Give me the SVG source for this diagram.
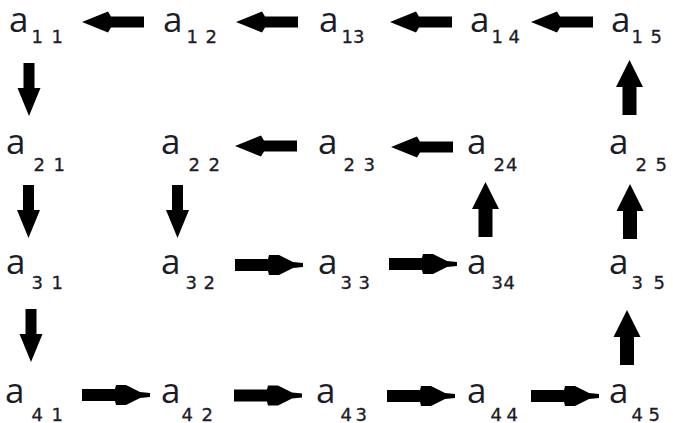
<svg xmlns="http://www.w3.org/2000/svg" xmlns:xlink="http://www.w3.org/1999/xlink" width="673" height="423" viewBox="0 0 673 423">
<style>
.a{font-family:"Open Sans","DejaVu Sans",sans-serif;font-size:35px;fill:#1c1c28}
.s{font-family:"DejaVu Sans","Liberation Sans",sans-serif;font-size:18px;fill:#1c1c28;stroke:#1c1c28;stroke-width:0.3}
.arr{fill:#000}
</style>
<defs>
<polygon id="L" points="0,0 26,-10.5 29,-5.5 62,-5.5 62,5.5 29,5.5 26,10.5"/>
<polygon id="R" points="0,-6 33,-6 34,-10 44,-10 58,-3 68,-2 68,2 58,3 44,10 34,10 33,6 0,6"/>
<polygon id="U" points="0,0 13.5,27 7,27 7,55 -7,55 -7,27 -13.5,27"/>
<polygon id="D" points="-5.5,0 5.5,0 5.5,25 11.5,25 0,53 -11.5,25 -5.5,25"/>
</defs>
<rect width="673" height="423" fill="#fff"/>
<g id="connectors" class="arr">
<use xlink:href="#L" x="82" y="22"/>
<use xlink:href="#L" x="236" y="22"/>
<use xlink:href="#L" x="390" y="22"/>
<use xlink:href="#L" x="531" y="22"/>
<use xlink:href="#L" x="235" y="146"/>
<use xlink:href="#L" x="391" y="147"/>
<use xlink:href="#R" x="235" y="265"/>
<use xlink:href="#R" x="389" y="264"/>
<use xlink:href="#R" x="82" y="395"/>
<use xlink:href="#R" x="234" y="395.5"/>
<use xlink:href="#R" x="387" y="396"/>
<use xlink:href="#R" x="531" y="396"/>
<use xlink:href="#U" x="629.5" y="60"/>
<use xlink:href="#U" x="630" y="184"/>
<use xlink:href="#U" x="485.5" y="182"/>
<use xlink:href="#U" x="627" y="310"/>
<use xlink:href="#D" x="29" y="63"/>
<use xlink:href="#D" x="28.5" y="185"/>
<use xlink:href="#D" x="177.5" y="185"/>
<use xlink:href="#D" x="31" y="309"/>
</g>
<g id="a11"><text class="a" x="9" y="32">a</text><text class="s" x="31.5 51.5" y="43">11</text></g>
<g id="a12"><text class="a" x="163" y="32">a</text><text class="s" x="186.5 205.5" y="43">12</text></g>
<g id="a13"><text class="a" x="319" y="32">a</text><text class="s" x="341.5 353" y="43">13</text></g>
<g id="a14"><text class="a" x="470" y="32">a</text><text class="s" x="491.5 508.5" y="43">14</text></g>
<g id="a15"><text class="a" x="611" y="32">a</text><text class="s" x="631.5 650.5" y="43">15</text></g>
<g id="a21"><text class="a" x="6" y="154">a</text><text class="s" x="33.5 53.5" y="171">21</text></g>
<g id="a22"><text class="a" x="161" y="154">a</text><text class="s" x="188.5 208.5" y="171">22</text></g>
<g id="a23"><text class="a" x="318" y="154">a</text><text class="s" x="343.5 363.5" y="171">23</text></g>
<g id="a24"><text class="a" x="467" y="154">a</text><text class="s" x="493.5 506" y="171">24</text></g>
<g id="a25"><text class="a" x="609" y="154">a</text><text class="s" x="635.5 655.5" y="171">25</text></g>
<g id="a31"><text class="a" x="6" y="274">a</text><text class="s" x="31.5 51.5" y="289">31</text></g>
<g id="a32"><text class="a" x="161" y="274">a</text><text class="s" x="185.5 203.5" y="289">32</text></g>
<g id="a33"><text class="a" x="318" y="274">a</text><text class="s" x="340.5 358.5" y="289">33</text></g>
<g id="a34"><text class="a" x="467" y="274">a</text><text class="s" x="491.5 503.5" y="289">34</text></g>
<g id="a35"><text class="a" x="609" y="274">a</text><text class="s" x="631.5 653.5" y="289">35</text></g>
<g id="a41"><text class="a" x="5" y="403">a</text><text class="s" x="31.5 51.5" y="421">41</text></g>
<g id="a42"><text class="a" x="161" y="403">a</text><text class="s" x="181.5 201.5" y="421">42</text></g>
<g id="a43"><text class="a" x="316" y="403">a</text><text class="s" x="340.5 355.5" y="421">43</text></g>
<g id="a44"><text class="a" x="467" y="403">a</text><text class="s" x="490.5 506.5" y="421">44</text></g>
<g id="a45"><text class="a" x="609" y="403">a</text><text class="s" x="631.5 648.5" y="421">45</text></g>
</svg>
